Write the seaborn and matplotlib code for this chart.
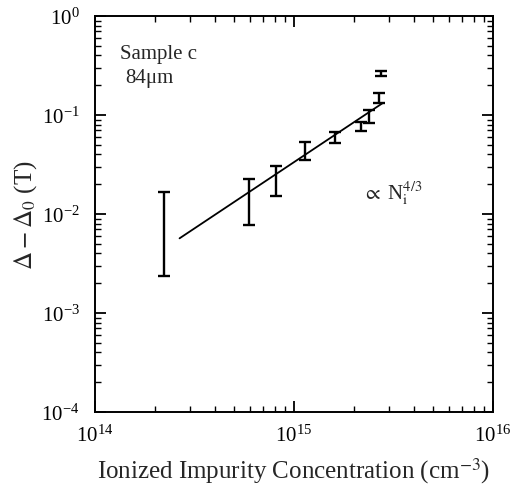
import numpy as np
import matplotlib
matplotlib.use("Agg")
import matplotlib.pyplot as plt
import matplotlib.ticker as mticker
import seaborn as sns
import pandas as pd

# Measured points: concentration (cm^-3), error bar low / high (T)
conc = [2.23e14, 5.92e14, 8.1e14, 1.135e15, 1.6e15, 2.17e15, 2.38e15, 2.67e15, 2.74e15]
err_low = [0.00238, 0.0078, 0.0153, 0.0354, 0.0521, 0.0684, 0.083, 0.133, 0.249]
err_high = [0.0168, 0.0224, 0.0303, 0.053, 0.0679, 0.0857, 0.112, 0.166, 0.28]

# Fitted power law line (endpoints), ~ N^(4/3)
fit_conc = [2.66e14, 2.79e15]
fit_val = [0.00568, 0.132]

sns.set_style("ticks")
plt.rcParams['font.family'] = ['Liberation Serif', 'DejaVu Serif']
plt.rcParams['mathtext.fontset'] = 'stix'

df = pd.DataFrame({"conc": conc, "low": err_low, "high": err_high})
df["mid"] = np.sqrt(df["low"] * df["high"])

fig = plt.figure(figsize=(5.12, 4.89), dpi=100)
ax = fig.add_axes([0.1855, 0.1554, 0.7775, 0.8098])

ax.set_xscale("log")
ax.set_yscale("log")

# error bars only (no markers)
ax.errorbar(df["conc"], df["mid"],
            yerr=[df["mid"] - df["low"], df["high"] - df["mid"]],
            fmt="none", ecolor="black", elinewidth=1.7, capsize=4, capthick=1.7)

fit_df = pd.DataFrame({"x": fit_conc, "y": fit_val})
sns.lineplot(data=fit_df, x="x", y="y", color="black", linewidth=1.3, ax=ax)

ax.set_xlim(1e14, 1e16)
ax.set_ylim(1e-4, 1)

ax.xaxis.set_major_locator(mticker.LogLocator(base=10, numticks=5))
ax.yaxis.set_major_locator(mticker.LogLocator(base=10, numticks=6))
ax.xaxis.set_minor_locator(mticker.LogLocator(base=10, subs=np.arange(2, 10), numticks=20))
ax.yaxis.set_minor_locator(mticker.LogLocator(base=10, subs=np.arange(2, 10), numticks=20))
ax.xaxis.set_minor_formatter(mticker.NullFormatter())
ax.yaxis.set_minor_formatter(mticker.NullFormatter())

ax.tick_params(which="both", direction="in", top=True, right=True, colors="black")
ax.tick_params(which="major", length=8, width=1.3, labelsize=15)
ax.tick_params(axis="x", which="major", pad=9)
ax.tick_params(axis="y", which="major", pad=11)
ax.tick_params(which="minor", length=4.5, width=1.0)
for sp in ax.spines.values():
    sp.set_linewidth(1.4)
    sp.set_color("black")

ax.set_xlabel("Ionized Impurity Concentration (cm$^{-3}$)", fontsize=18, labelpad=7)
ax.set_ylabel(r"$\Delta - \Delta_0$ (T)", fontsize=18, labelpad=2)

ax.text(0.064, 0.905, "Sample c", transform=ax.transAxes, fontsize=15, va="center")
ax.text(0.075, 0.845, "84\u03bcm", transform=ax.transAxes, fontsize=15, va="center")
ax.text(0.67, 0.555, r"$\propto$ N$_\mathrm{i}^{4/3}$", transform=ax.transAxes,
        fontsize=15, va="center")

fig.savefig("out.png", dpi=100)
